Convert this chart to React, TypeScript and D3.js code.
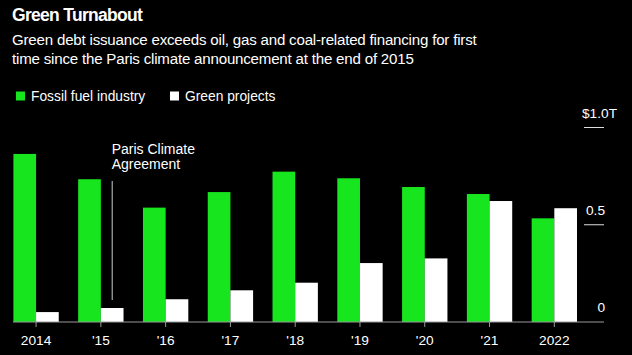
import React from "react";
import * as d3 from "d3";

const years = ["2014", "'15", "'16", "'17", "'18", "'19", "'20", "'21", "2022"];
const fossil = [0.864, 0.734, 0.588, 0.668, 0.773, 0.739, 0.694, 0.658, 0.533];
const green = [0.051, 0.072, 0.117, 0.163, 0.202, 0.303, 0.327, 0.622, 0.585];
const yTicks = [0, 0.5, 1.0];
const yTickLabels = ["0", "0.5", "$1.0T"];
const seriesNames = ["Fossil fuel industry", "Green projects"];

const W = 632;
const H = 355;
const GREEN = "#17e61f";
const FONT = "'Liberation Sans', Arial, Helvetica, sans-serif";

export default function App() {
  const x = d3.scaleBand<string>().domain(years).range([13.4, 577]).paddingInner(0.3).paddingOuter(0);
  const y = d3.scaleLinear().domain([0, 1]).range([322, 127.5]);
  const bw = x.bandwidth() / 2;
  const annX = (x("'15") as number) + x.bandwidth() * 0.75;

  return (
    <svg width={W} height={H} style={{ position: "absolute", left: 0, top: 0, background: "#000" }}>
      <rect x={0} y={0} width={W} height={H} fill="#000" />
      <text x={12} y={21} fill="#fff" fontFamily={FONT} fontWeight="bold" fontSize={17.5} letterSpacing={-0.7}>
        Green Turnabout
      </text>
      <text x={12} y={45} fill="#fff" fontFamily={FONT} fontSize={15.1} letterSpacing={-0.2}>
        Green debt issuance exceeds oil, gas and coal-related financing for first
      </text>
      <text x={12} y={64} fill="#fff" fontFamily={FONT} fontSize={15.1} letterSpacing={-0.2}>
        time since the Paris climate announcement at the end of 2015
      </text>

      {/* legend */}
      <rect x={16} y={91.5} width={9} height={9} fill={GREEN} />
      <text x={31} y={100.5} fill="#fff" fontFamily={FONT} fontSize={13.8}>{seriesNames[0]}</text>
      <rect x={170} y={91.5} width={9} height={9} fill="#fff" />
      <text x={185} y={100.5} fill="#fff" fontFamily={FONT} fontSize={13.8}>{seriesNames[1]}</text>

      {/* y ticks */}
      {yTicks.map((t, i) => (
        <g key={i}>
          {t > 0 && <line x1={584} x2={604} y1={y(t)} y2={y(t)} stroke="#ddd" strokeWidth={1} />}
          <text
            x={t === 1 ? 582 : 605}
            y={y(t) - 10}
            textAnchor={t === 1 ? "start" : "end"}
            fill="#fff"
            fontFamily={FONT}
            fontSize={13.7}
          >
            {yTickLabels[i]}
          </text>
        </g>
      ))}

      {/* bars */}
      {years.map((yr, i) => {
        const x0 = x(yr) as number;
        return (
          <g key={yr}>
            <rect x={x0} y={y(fossil[i])} width={bw} height={y(0) - y(fossil[i])} fill={GREEN} />
            <rect x={x0 + bw} y={y(green[i])} width={bw} height={y(0) - y(green[i])} fill="#fff" />
          </g>
        );
      })}

      {/* x axis */}
      <line x1={13} x2={604} y1={y(0)} y2={y(0)} stroke="#999" strokeWidth={1} />
      {years.map((yr) => {
        const cx = (x(yr) as number) + x.bandwidth() / 2;
        return (
          <g key={"t" + yr}>
            <line x1={cx} x2={cx} y1={y(0)} y2={y(0) + 5} stroke="#999" />
            <text x={cx} y={345} textAnchor="middle" fill="#fff" fontFamily={FONT} fontSize={13.7}>
              {yr}
            </text>
          </g>
        );
      })}

      {/* annotation */}
      <line x1={annX} x2={annX} y1={181} y2={300} stroke="#ccc" strokeWidth={1} />
      <text x={annX - 0.5} y={154} fill="#fff" fontFamily={FONT} fontSize={14}>Paris Climate</text>
      <text x={annX - 0.5} y={169} fill="#fff" fontFamily={FONT} fontSize={14}>Agreement</text>
    </svg>
  );
}
